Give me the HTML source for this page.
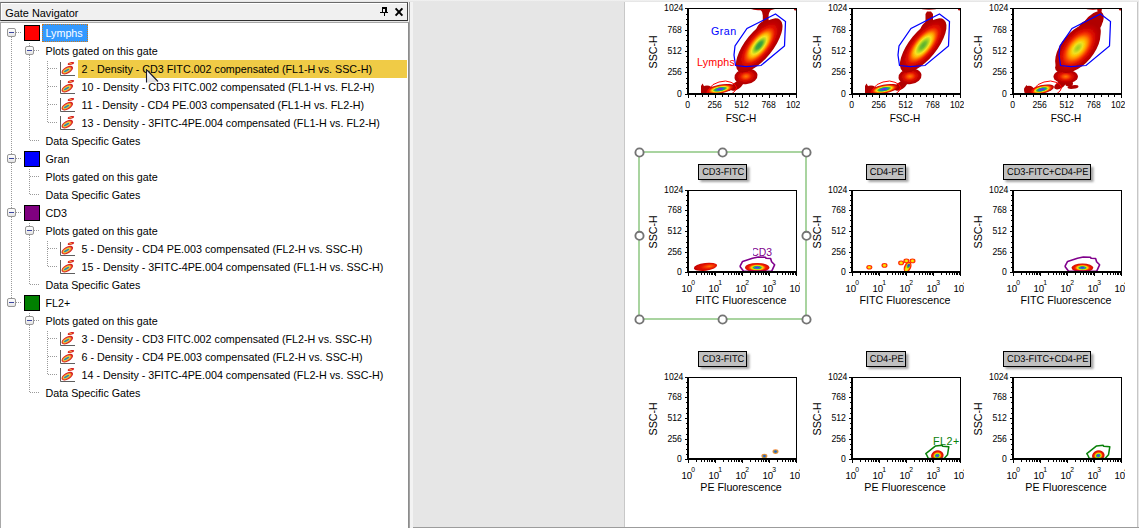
<!DOCTYPE html>
<html><head><meta charset="utf-8"><title>Gate Navigator</title>
<style>

html,body{margin:0;padding:0;}
body{width:1139px;height:528px;overflow:hidden;background:#e6e6e6;position:relative;
 font-family:"Liberation Sans", sans-serif;font-size:10.67px;color:#000;}
.abs{position:absolute;}
#topstrip{left:0;top:0;width:1139px;height:2px;background:linear-gradient(#f4f4f4,#e2e2e2);}
#nav{left:0;top:0;width:410px;height:528px;}
#title{left:0;top:2px;width:406px;height:17px;background:#f0f0f0;border:1px solid #6a6a6a;border-left-color:#8a8a8a;
 border-right-color:#404040;border-bottom-color:#303030;box-shadow:inset 1px 1px 0 #ffffff;}
#title span{position:absolute;left:4.3px;top:3px;font-size:10.88px;line-height:15px;white-space:nowrap;}
#tree{left:0;top:22px;width:409px;height:506px;background:#fff;border-left:1px solid #a8a8a8;border-top:1px solid #a8a8a8;
 border-right:1px solid #8c8c8c;box-sizing:border-box;}
.row{position:absolute;height:18px;line-height:18px;white-space:nowrap;font-size:10.74px;}
.sw{position:absolute;width:14px;height:14px;border:1px solid #000;}
.exp{position:absolute;width:7px;height:7px;border:1px solid #969696;border-radius:2px;background:linear-gradient(#ffffff,#e4e4e4);}
.exp:after{content:"";position:absolute;left:1px;top:3px;width:5px;height:1px;background:#3c46a0;}
.vd{position:absolute;width:1px;background-image:linear-gradient(#9a9a9a 50%,transparent 50%);background-size:1px 2px;}
.hd{position:absolute;height:1px;background-image:linear-gradient(90deg,#9a9a9a 50%,transparent 50%);background-size:2px 1px;}
#page{left:625px;top:2px;width:512px;height:525px;background:#fff;}
#gap{left:408px;top:2px;width:5px;height:526px;background:#f3f3f3;}
#gapl{left:409px;top:2px;width:1px;height:526px;background:#a2a2a2;}

</style></head><body>
<div class="abs" id="topstrip"></div>
<div class="abs" id="gap"></div><div class="abs" id="gapl"></div>
<div class="abs" style="left:624px;top:2px;width:1px;height:525px;background:#c8c8c8"></div>
<div class="abs" id="page"></div>
<div class="abs" style="left:1137px;top:2px;width:1px;height:526px;background:#c6c6c6"></div><div class="abs" style="left:1138px;top:2px;width:1px;height:526px;background:#e8e8e8"></div>
<div class="abs" style="left:413px;top:527px;width:726px;height:1px;background:#9c9c9c"></div>
<div class="abs" id="nav">
<div class="abs" id="title"><span>Gate Navigator</span></div>
<svg class="abs" style="left:378px;top:5px" width="28" height="14" viewBox="378 5 28 14"><g fill="#000" shape-rendering="crispEdges"><rect x="382" y="7" width="5" height="2"/><rect x="382" y="9" width="1" height="3"/><rect x="385" y="9" width="2" height="3"/><rect x="380" y="12" width="8" height="1"/><rect x="384" y="13" width="1" height="3"/></g><path d="M395.6 8.4l6.8 7.2M402.4 8.4l-6.8 7.2" stroke="#000" stroke-width="2" fill="none"/></svg>
<div class="abs" id="tree"></div>
<div class="vd" style="left:11px;top:37px;height:261px"></div>
<div class="vd" style="left:29px;top:43px;height:4px"></div>
<div class="vd" style="left:29px;top:55px;height:85px"></div>
<div class="vd" style="left:29px;top:169px;height:25px"></div>
<div class="vd" style="left:29px;top:223px;height:4px"></div>
<div class="vd" style="left:29px;top:235px;height:49px"></div>
<div class="vd" style="left:29px;top:313px;height:4px"></div>
<div class="vd" style="left:29px;top:325px;height:67px"></div>
<div class="vd" style="left:47px;top:61px;height:61px"></div>
<div class="vd" style="left:47px;top:241px;height:25px"></div>
<div class="vd" style="left:47px;top:331px;height:43px"></div>
<div class="hd" style="left:16px;top:32px;width:6px"></div>
<div class="exp" style="left:7px;top:28px"></div>
<div class="sw" style="left:24px;top:25px;background:#ff0000"></div>
<div class="row" style="left:42px;top:24px;width:46px;background:#3399ff;color:#fff;box-sizing:border-box;border:1px dotted #cc7a1e;line-height:16px;padding-left:2.5px">Lymphs</div>
<div class="hd" style="left:34px;top:50px;width:6px"></div>
<div class="exp" style="left:25px;top:46px"></div>
<div class="row" style="left:45.5px;top:42px">Plots gated on this gate</div>
<div class="hd" style="left:48px;top:68px;width:10px"></div>
<div class="abs" style="left:78px;top:60px;width:329px;height:18px;background:#f0cb46"></div>
<svg class="abs" style="left:60px;top:62px" width="16" height="16" viewBox="0 0 16 16"><path d="M0.5 0v13.5H15" stroke="#5e5e5e" stroke-width="1" fill="none"/><ellipse cx="7.3" cy="8.1" rx="6.4" ry="3.3" transform="rotate(-30 7.3 8.1)" fill="#d82424"/><ellipse cx="7.0" cy="8.3" rx="5.0" ry="2.3" transform="rotate(-30 7.0 8.3)" fill="#f08a30"/><ellipse cx="6.8" cy="8.4" rx="4.1" ry="1.7" transform="rotate(-30 6.8 8.4)" fill="#f0d040"/><ellipse cx="6.6" cy="8.5" rx="3.1" ry="0.95" transform="rotate(-30 6.6 8.5)" fill="#2c88b0"/><ellipse cx="10.9" cy="1.5" rx="3.3" ry="1.4" transform="rotate(-12 10.9 1.5)" fill="#d82424"/><ellipse cx="10.6" cy="1.6" rx="1.5" ry="0.55" transform="rotate(-12 10.6 1.6)" fill="#f0a040"/></svg>
<div class="row" style="left:81.5px;top:60px">2 - Density - CD3 FITC.002 compensated (FL1-H vs. SSC-H)</div>
<div class="hd" style="left:48px;top:86px;width:10px"></div>
<svg class="abs" style="left:60px;top:80px" width="16" height="16" viewBox="0 0 16 16"><path d="M0.5 0v13.5H15" stroke="#5e5e5e" stroke-width="1" fill="none"/><ellipse cx="7.3" cy="8.1" rx="6.4" ry="3.3" transform="rotate(-30 7.3 8.1)" fill="#d82424"/><ellipse cx="7.0" cy="8.3" rx="5.0" ry="2.3" transform="rotate(-30 7.0 8.3)" fill="#f08a30"/><ellipse cx="6.8" cy="8.4" rx="4.1" ry="1.7" transform="rotate(-30 6.8 8.4)" fill="#f0d040"/><ellipse cx="6.6" cy="8.5" rx="3.1" ry="0.95" transform="rotate(-30 6.6 8.5)" fill="#2c88b0"/><ellipse cx="10.9" cy="1.5" rx="3.3" ry="1.4" transform="rotate(-12 10.9 1.5)" fill="#d82424"/><ellipse cx="10.6" cy="1.6" rx="1.5" ry="0.55" transform="rotate(-12 10.6 1.6)" fill="#f0a040"/></svg>
<div class="row" style="left:81.5px;top:78px">10 - Density - CD3 FITC.002 compensated (FL1-H vs. FL2-H)</div>
<div class="hd" style="left:48px;top:104px;width:10px"></div>
<svg class="abs" style="left:60px;top:98px" width="16" height="16" viewBox="0 0 16 16"><path d="M0.5 0v13.5H15" stroke="#5e5e5e" stroke-width="1" fill="none"/><ellipse cx="7.3" cy="8.1" rx="6.4" ry="3.3" transform="rotate(-30 7.3 8.1)" fill="#d82424"/><ellipse cx="7.0" cy="8.3" rx="5.0" ry="2.3" transform="rotate(-30 7.0 8.3)" fill="#f08a30"/><ellipse cx="6.8" cy="8.4" rx="4.1" ry="1.7" transform="rotate(-30 6.8 8.4)" fill="#f0d040"/><ellipse cx="6.6" cy="8.5" rx="3.1" ry="0.95" transform="rotate(-30 6.6 8.5)" fill="#2c88b0"/><ellipse cx="10.9" cy="1.5" rx="3.3" ry="1.4" transform="rotate(-12 10.9 1.5)" fill="#d82424"/><ellipse cx="10.6" cy="1.6" rx="1.5" ry="0.55" transform="rotate(-12 10.6 1.6)" fill="#f0a040"/></svg>
<div class="row" style="left:81.5px;top:96px">11 - Density - CD4 PE.003 compensated (FL1-H vs. FL2-H)</div>
<div class="hd" style="left:48px;top:122px;width:10px"></div>
<svg class="abs" style="left:60px;top:116px" width="16" height="16" viewBox="0 0 16 16"><path d="M0.5 0v13.5H15" stroke="#5e5e5e" stroke-width="1" fill="none"/><ellipse cx="7.3" cy="8.1" rx="6.4" ry="3.3" transform="rotate(-30 7.3 8.1)" fill="#d82424"/><ellipse cx="7.0" cy="8.3" rx="5.0" ry="2.3" transform="rotate(-30 7.0 8.3)" fill="#f08a30"/><ellipse cx="6.8" cy="8.4" rx="4.1" ry="1.7" transform="rotate(-30 6.8 8.4)" fill="#f0d040"/><ellipse cx="6.6" cy="8.5" rx="3.1" ry="0.95" transform="rotate(-30 6.6 8.5)" fill="#2c88b0"/><ellipse cx="10.9" cy="1.5" rx="3.3" ry="1.4" transform="rotate(-12 10.9 1.5)" fill="#d82424"/><ellipse cx="10.6" cy="1.6" rx="1.5" ry="0.55" transform="rotate(-12 10.6 1.6)" fill="#f0a040"/></svg>
<div class="row" style="left:81.5px;top:114px">13 - Density - 3FITC-4PE.004 compensated (FL1-H vs. FL2-H)</div>
<div class="hd" style="left:30px;top:140px;width:10px"></div>
<div class="row" style="left:45.5px;top:132px">Data Specific Gates</div>
<div class="hd" style="left:16px;top:158px;width:6px"></div>
<div class="exp" style="left:7px;top:154px"></div>
<div class="sw" style="left:24px;top:151px;background:#0000ff"></div>
<div class="row" style="left:45.5px;top:150px">Gran</div>
<div class="hd" style="left:30px;top:176px;width:10px"></div>
<div class="row" style="left:45.5px;top:168px">Plots gated on this gate</div>
<div class="hd" style="left:30px;top:194px;width:10px"></div>
<div class="row" style="left:45.5px;top:186px">Data Specific Gates</div>
<div class="hd" style="left:16px;top:212px;width:6px"></div>
<div class="exp" style="left:7px;top:208px"></div>
<div class="sw" style="left:24px;top:205px;background:#800080"></div>
<div class="row" style="left:45.5px;top:204px">CD3</div>
<div class="hd" style="left:34px;top:230px;width:6px"></div>
<div class="exp" style="left:25px;top:226px"></div>
<div class="row" style="left:45.5px;top:222px">Plots gated on this gate</div>
<div class="hd" style="left:48px;top:248px;width:10px"></div>
<svg class="abs" style="left:60px;top:242px" width="16" height="16" viewBox="0 0 16 16"><path d="M0.5 0v13.5H15" stroke="#5e5e5e" stroke-width="1" fill="none"/><ellipse cx="7.3" cy="8.1" rx="6.4" ry="3.3" transform="rotate(-30 7.3 8.1)" fill="#d82424"/><ellipse cx="7.0" cy="8.3" rx="5.0" ry="2.3" transform="rotate(-30 7.0 8.3)" fill="#f08a30"/><ellipse cx="6.8" cy="8.4" rx="4.1" ry="1.7" transform="rotate(-30 6.8 8.4)" fill="#f0d040"/><ellipse cx="6.6" cy="8.5" rx="3.1" ry="0.95" transform="rotate(-30 6.6 8.5)" fill="#2c88b0"/><ellipse cx="10.9" cy="1.5" rx="3.3" ry="1.4" transform="rotate(-12 10.9 1.5)" fill="#d82424"/><ellipse cx="10.6" cy="1.6" rx="1.5" ry="0.55" transform="rotate(-12 10.6 1.6)" fill="#f0a040"/></svg>
<div class="row" style="left:81.5px;top:240px">5 - Density - CD4 PE.003 compensated (FL2-H vs. SSC-H)</div>
<div class="hd" style="left:48px;top:266px;width:10px"></div>
<svg class="abs" style="left:60px;top:260px" width="16" height="16" viewBox="0 0 16 16"><path d="M0.5 0v13.5H15" stroke="#5e5e5e" stroke-width="1" fill="none"/><ellipse cx="7.3" cy="8.1" rx="6.4" ry="3.3" transform="rotate(-30 7.3 8.1)" fill="#d82424"/><ellipse cx="7.0" cy="8.3" rx="5.0" ry="2.3" transform="rotate(-30 7.0 8.3)" fill="#f08a30"/><ellipse cx="6.8" cy="8.4" rx="4.1" ry="1.7" transform="rotate(-30 6.8 8.4)" fill="#f0d040"/><ellipse cx="6.6" cy="8.5" rx="3.1" ry="0.95" transform="rotate(-30 6.6 8.5)" fill="#2c88b0"/><ellipse cx="10.9" cy="1.5" rx="3.3" ry="1.4" transform="rotate(-12 10.9 1.5)" fill="#d82424"/><ellipse cx="10.6" cy="1.6" rx="1.5" ry="0.55" transform="rotate(-12 10.6 1.6)" fill="#f0a040"/></svg>
<div class="row" style="left:81.5px;top:258px">15 - Density - 3FITC-4PE.004 compensated (FL1-H vs. SSC-H)</div>
<div class="hd" style="left:30px;top:284px;width:10px"></div>
<div class="row" style="left:45.5px;top:276px">Data Specific Gates</div>
<div class="hd" style="left:16px;top:302px;width:6px"></div>
<div class="exp" style="left:7px;top:298px"></div>
<div class="sw" style="left:24px;top:295px;background:#008000"></div>
<div class="row" style="left:45.5px;top:294px">FL2+</div>
<div class="hd" style="left:34px;top:320px;width:6px"></div>
<div class="exp" style="left:25px;top:316px"></div>
<div class="row" style="left:45.5px;top:312px">Plots gated on this gate</div>
<div class="hd" style="left:48px;top:338px;width:10px"></div>
<svg class="abs" style="left:60px;top:332px" width="16" height="16" viewBox="0 0 16 16"><path d="M0.5 0v13.5H15" stroke="#5e5e5e" stroke-width="1" fill="none"/><ellipse cx="7.3" cy="8.1" rx="6.4" ry="3.3" transform="rotate(-30 7.3 8.1)" fill="#d82424"/><ellipse cx="7.0" cy="8.3" rx="5.0" ry="2.3" transform="rotate(-30 7.0 8.3)" fill="#f08a30"/><ellipse cx="6.8" cy="8.4" rx="4.1" ry="1.7" transform="rotate(-30 6.8 8.4)" fill="#f0d040"/><ellipse cx="6.6" cy="8.5" rx="3.1" ry="0.95" transform="rotate(-30 6.6 8.5)" fill="#2c88b0"/><ellipse cx="10.9" cy="1.5" rx="3.3" ry="1.4" transform="rotate(-12 10.9 1.5)" fill="#d82424"/><ellipse cx="10.6" cy="1.6" rx="1.5" ry="0.55" transform="rotate(-12 10.6 1.6)" fill="#f0a040"/></svg>
<div class="row" style="left:81.5px;top:330px">3 - Density - CD3 FITC.002 compensated (FL2-H vs. SSC-H)</div>
<div class="hd" style="left:48px;top:356px;width:10px"></div>
<svg class="abs" style="left:60px;top:350px" width="16" height="16" viewBox="0 0 16 16"><path d="M0.5 0v13.5H15" stroke="#5e5e5e" stroke-width="1" fill="none"/><ellipse cx="7.3" cy="8.1" rx="6.4" ry="3.3" transform="rotate(-30 7.3 8.1)" fill="#d82424"/><ellipse cx="7.0" cy="8.3" rx="5.0" ry="2.3" transform="rotate(-30 7.0 8.3)" fill="#f08a30"/><ellipse cx="6.8" cy="8.4" rx="4.1" ry="1.7" transform="rotate(-30 6.8 8.4)" fill="#f0d040"/><ellipse cx="6.6" cy="8.5" rx="3.1" ry="0.95" transform="rotate(-30 6.6 8.5)" fill="#2c88b0"/><ellipse cx="10.9" cy="1.5" rx="3.3" ry="1.4" transform="rotate(-12 10.9 1.5)" fill="#d82424"/><ellipse cx="10.6" cy="1.6" rx="1.5" ry="0.55" transform="rotate(-12 10.6 1.6)" fill="#f0a040"/></svg>
<div class="row" style="left:81.5px;top:348px">6 - Density - CD4 PE.003 compensated (FL2-H vs. SSC-H)</div>
<div class="hd" style="left:48px;top:374px;width:10px"></div>
<svg class="abs" style="left:60px;top:368px" width="16" height="16" viewBox="0 0 16 16"><path d="M0.5 0v13.5H15" stroke="#5e5e5e" stroke-width="1" fill="none"/><ellipse cx="7.3" cy="8.1" rx="6.4" ry="3.3" transform="rotate(-30 7.3 8.1)" fill="#d82424"/><ellipse cx="7.0" cy="8.3" rx="5.0" ry="2.3" transform="rotate(-30 7.0 8.3)" fill="#f08a30"/><ellipse cx="6.8" cy="8.4" rx="4.1" ry="1.7" transform="rotate(-30 6.8 8.4)" fill="#f0d040"/><ellipse cx="6.6" cy="8.5" rx="3.1" ry="0.95" transform="rotate(-30 6.6 8.5)" fill="#2c88b0"/><ellipse cx="10.9" cy="1.5" rx="3.3" ry="1.4" transform="rotate(-12 10.9 1.5)" fill="#d82424"/><ellipse cx="10.6" cy="1.6" rx="1.5" ry="0.55" transform="rotate(-12 10.6 1.6)" fill="#f0a040"/></svg>
<div class="row" style="left:81.5px;top:366px">14 - Density - 3FITC-4PE.004 compensated (FL2-H vs. SSC-H)</div>
<div class="hd" style="left:30px;top:392px;width:10px"></div>
<div class="row" style="left:45.5px;top:384px">Data Specific Gates</div>
<svg class="abs" style="left:144px;top:66px" width="18" height="20" viewBox="144 66 18 20"><defs><linearGradient id="cg" x1="0" y1="0" x2="0" y2="1"><stop offset="0" stop-color="#fff"/><stop offset="1" stop-color="#dcdcdc"/></linearGradient></defs><path d="M146.5 69.5V82.5H152L157.8 81.5Z" fill="url(#cg)"/><path d="M146.5 69V82.5M146.5 69.5L158 81.5" stroke="#1a1a2a" stroke-width="1.1" fill="none"/></svg>
</div>
<svg class="abs" style="left:0;top:0" width="1139" height="528" viewBox="0 0 1139 528" font-family='"Liberation Sans", sans-serif'>
<defs>
<filter id="b1" x="-20%" y="-20%" width="140%" height="140%"><feGaussianBlur stdDeviation="0.6"/></filter>
<filter id="b2" x="-20%" y="-20%" width="140%" height="140%"><feGaussianBlur stdDeviation="0.35"/></filter>
<filter id="sh" x="-20%" y="-30%" width="150%" height="190%"><feGaussianBlur stdDeviation="0.9"/></filter>
<radialGradient id="gMain">
 <stop offset="0" stop-color="#2c9848"/><stop offset="0.13" stop-color="#44a83c"/><stop offset="0.24" stop-color="#a8d420"/>
 <stop offset="0.33" stop-color="#f8e420"/><stop offset="0.44" stop-color="#ffa800"/><stop offset="0.55" stop-color="#f85000"/>
 <stop offset="0.67" stop-color="#e41000"/><stop offset="0.83" stop-color="#c00000"/><stop offset="1" stop-color="#ae0000"/>
</radialGradient>
<radialGradient id="gMain2">
 <stop offset="0" stop-color="#58b030"/><stop offset="0.12" stop-color="#70bc2c"/><stop offset="0.24" stop-color="#b8d820"/>
 <stop offset="0.33" stop-color="#f8e420"/><stop offset="0.44" stop-color="#ffa800"/><stop offset="0.55" stop-color="#f85000"/>
 <stop offset="0.67" stop-color="#e41000"/><stop offset="0.83" stop-color="#c00000"/><stop offset="1" stop-color="#ae0000"/>
</radialGradient>
<radialGradient id="gMain3">
 <stop offset="0" stop-color="#a0cc24"/><stop offset="0.10" stop-color="#b8d420"/><stop offset="0.22" stop-color="#f0e020"/>
 <stop offset="0.32" stop-color="#ffc000"/><stop offset="0.43" stop-color="#ff8800"/><stop offset="0.55" stop-color="#f84000"/>
 <stop offset="0.68" stop-color="#e01000"/><stop offset="0.84" stop-color="#c00000"/><stop offset="1" stop-color="#ae0000"/>
</radialGradient>
<radialGradient id="gMid">
 <stop offset="0" stop-color="#ff7c00"/><stop offset="0.22" stop-color="#fa5000"/><stop offset="0.5" stop-color="#e01000"/>
 <stop offset="0.8" stop-color="#bc0000"/><stop offset="1" stop-color="#ae0000"/>
</radialGradient>
<radialGradient id="gRain">
 <stop offset="0" stop-color="#9020d0"/><stop offset="0.12" stop-color="#6030e0"/><stop offset="0.22" stop-color="#2070d8"/>
 <stop offset="0.32" stop-color="#20a070"/><stop offset="0.42" stop-color="#60c030"/><stop offset="0.52" stop-color="#f0e420"/>
 <stop offset="0.62" stop-color="#ffa000"/><stop offset="0.74" stop-color="#f03800"/><stop offset="0.88" stop-color="#d00800"/>
 <stop offset="1" stop-color="#b00000"/>
</radialGradient>
<radialGradient id="gRain2">
 <stop offset="0" stop-color="#9020d0"/><stop offset="0.10" stop-color="#5030e0"/><stop offset="0.20" stop-color="#2080d0"/>
 <stop offset="0.30" stop-color="#30b050"/><stop offset="0.40" stop-color="#c0d820"/><stop offset="0.48" stop-color="#ffd000"/>
 <stop offset="0.58" stop-color="#ff7000"/><stop offset="0.70" stop-color="#f02000"/><stop offset="1" stop-color="#d00808"/>
</radialGradient>
<radialGradient id="gRedL" cx="0.6" cy="0.5" r="0.62" fx="0.68" fy="0.5">
 <stop offset="0" stop-color="#ff7800"/><stop offset="0.25" stop-color="#f84000"/><stop offset="0.55" stop-color="#e01000"/>
 <stop offset="1" stop-color="#c00000"/>
</radialGradient>
<radialGradient id="gRed">
 <stop offset="0" stop-color="#ff8c00"/><stop offset="0.3" stop-color="#f84800"/><stop offset="0.6" stop-color="#e01000"/>
 <stop offset="1" stop-color="#c00000"/>
</radialGradient>
</defs>
<defs><clipPath id="cw1"><rect x="625" y="0" width="175" height="528"/></clipPath><clipPath id="cw2"><rect x="800" y="0" width="164" height="528"/></clipPath><clipPath id="cw3"><rect x="964" y="0" width="161" height="528"/></clipPath></defs>
<g clip-path="url(#cw1)">
<defs><clipPath id="c1_0"><rect x="689" y="9" width="107" height="84"/></clipPath></defs><g clip-path="url(#c1_0)"><g filter="url(#b2)"><g fill="#b00000"><ellipse cx="763" cy="8.3" rx="13" ry="2.0" transform="rotate(0 763 8.3)"/><path d="M760 9 Q763 12 762.8 16 V26 H768.6 V16 Q768.6 12 772 9Z"/><ellipse cx="795.5" cy="9" rx="1.6" ry="1.6" transform="rotate(0 795.5 9)"/><ellipse cx="767" cy="32" rx="11" ry="12" transform="rotate(25 767 32)"/><ellipse cx="744.5" cy="67" rx="7" ry="7" transform="rotate(0 744.5 67)"/><ellipse cx="737" cy="85.5" rx="7.5" ry="3.6" transform="rotate(-35 737 85.5)"/><ellipse cx="707" cy="90" rx="5.5" ry="4.5" transform="rotate(0 707 90)"/><path d="M701 94 V86 L702.5 83.5 L704.5 87 V94Z"/></g><ellipse cx="746" cy="76.4" rx="11.6" ry="7.8" fill="url(#gMid)" transform="rotate(-8 746 76.4)"/><ellipse cx="759.2" cy="45.4" rx="33" ry="13.6" fill="url(#gMain)" transform="rotate(-51 759.2 45.4)"/><ellipse cx="720" cy="89.2" rx="14.5" ry="4.5" fill="url(#gRain)" transform="rotate(-11 720 89.2)"/></g></g><polygon points="775.5,14 785.5,21.5 784.5,46 761,65.5 746,66.5 735.5,65.5 734,55 735,46 747,28.5" fill="none" stroke="#0000ff" stroke-width="1.25"/><g clip-path="url(#c1_0)"><polyline points="706.5,94 709,89 713,84.6 719,82 725.6,81 731,82.3 735,84.5 736.6,87.7 735,91 731.5,94" fill="none" stroke="#ff0000" stroke-width="1"/></g><text x="711" y="34.6" font-size="10.7" fill="#0000ff" letter-spacing="0.45">Gran</text><text x="697" y="65.8" font-size="10.7" fill="#ff0000" letter-spacing="0.15">Lymphs</text><g shape-rendering="crispEdges" fill="#000"><rect x="687" y="8" width="2" height="87"/><rect x="687" y="93" width="110" height="2"/><rect x="688" y="8" width="109" height="1"/><rect x="796" y="8" width="1" height="87"/><rect x="685" y="94" width="2" height="1"/><rect x="686" y="88" width="1" height="1"/><rect x="686" y="83" width="1" height="1"/><rect x="686" y="78" width="1" height="1"/><rect x="685" y="72" width="2" height="1"/><rect x="686" y="67" width="1" height="1"/><rect x="686" y="62" width="1" height="1"/><rect x="686" y="56" width="1" height="1"/><rect x="685" y="51" width="2" height="1"/><rect x="686" y="46" width="1" height="1"/><rect x="686" y="40" width="1" height="1"/><rect x="686" y="35" width="1" height="1"/><rect x="685" y="30" width="2" height="1"/><rect x="686" y="24" width="1" height="1"/><rect x="686" y="19" width="1" height="1"/><rect x="686" y="14" width="1" height="1"/><rect x="685" y="8" width="2" height="1"/><rect x="688" y="95" width="1" height="3"/><rect x="695" y="95" width="1" height="2"/><rect x="702" y="95" width="1" height="2"/><rect x="708" y="95" width="1" height="2"/><rect x="715" y="95" width="1" height="3"/><rect x="722" y="95" width="1" height="2"/><rect x="728" y="95" width="1" height="2"/><rect x="735" y="95" width="1" height="2"/><rect x="742" y="95" width="1" height="3"/><rect x="749" y="95" width="1" height="2"/><rect x="756" y="95" width="1" height="2"/><rect x="762" y="95" width="1" height="2"/><rect x="769" y="95" width="1" height="3"/><rect x="776" y="95" width="1" height="2"/><rect x="782" y="95" width="1" height="2"/><rect x="789" y="95" width="1" height="2"/><rect x="796" y="95" width="1" height="3"/></g><text transform="translate(683.30 11.00) scale(0.855 1)" font-size="10.1" text-anchor="end" text-rendering="geometricPrecision">1024</text><text transform="translate(681.80 33.00) scale(0.855 1)" font-size="10.1" text-anchor="end" text-rendering="geometricPrecision">768</text><text transform="translate(681.80 54.00) scale(0.855 1)" font-size="10.1" text-anchor="end" text-rendering="geometricPrecision">512</text><text transform="translate(681.80 75.00) scale(0.855 1)" font-size="10.1" text-anchor="end" text-rendering="geometricPrecision">256</text><text transform="translate(681.80 97.00) scale(0.855 1)" font-size="10.1" text-anchor="end" text-rendering="geometricPrecision">0</text><text transform="translate(656.5 51.8) rotate(-90)" font-size="10.7" text-anchor="middle">SSC-H</text><text transform="translate(687.70 108.00) scale(0.855 1)" font-size="10.1" text-anchor="middle" text-rendering="geometricPrecision">0</text><text transform="translate(714.70 108.00) scale(0.855 1)" font-size="10.1" text-anchor="middle" text-rendering="geometricPrecision">256</text><text transform="translate(741.70 108.00) scale(0.855 1)" font-size="10.1" text-anchor="middle" text-rendering="geometricPrecision">512</text><text transform="translate(768.70 108.00) scale(0.855 1)" font-size="10.1" text-anchor="middle" text-rendering="geometricPrecision">768</text><text transform="translate(786.00 108.00) scale(0.855 1)" font-size="10.1" text-anchor="start" text-rendering="geometricPrecision">1024</text><text transform="translate(741.0 122.2) scale(0.94 1)" font-size="10.7" text-anchor="middle">FSC-H</text>
</g>
<g clip-path="url(#cw2)">
<defs><clipPath id="c1_1"><rect x="853" y="9" width="107" height="84"/></clipPath></defs><g clip-path="url(#c1_1)"><g filter="url(#b2)"><g fill="#b00000"><ellipse cx="929" cy="8.2" rx="9" ry="1.6" transform="rotate(0 929 8.2)"/><path d="M925.5 14 L927 11.5 H931 L933 14 V26 H925.5Z"/><ellipse cx="959.5" cy="9" rx="1.6" ry="1.6" transform="rotate(0 959.5 9)"/><ellipse cx="931" cy="32" rx="11" ry="12" transform="rotate(25 931 32)"/><ellipse cx="908.5" cy="67" rx="7" ry="7" transform="rotate(0 908.5 67)"/><ellipse cx="901" cy="85.5" rx="7.5" ry="3.6" transform="rotate(-35 901 85.5)"/><ellipse cx="871" cy="90" rx="5.5" ry="4.5" transform="rotate(0 871 90)"/><path d="M865 94 V86 L866.5 83.5 L868.5 87 V94Z"/></g><ellipse cx="910" cy="76.4" rx="11.6" ry="7.8" fill="url(#gMid)" transform="rotate(-8 910 76.4)"/><ellipse cx="923.2" cy="45.4" rx="33" ry="13.6" fill="url(#gMain2)" transform="rotate(-51 923.2 45.4)"/><ellipse cx="884" cy="89.2" rx="14.5" ry="4.5" fill="url(#gRain)" transform="rotate(-11 884 89.2)"/></g></g><polygon points="939.5,14 949.5,21.5 948.5,46 925,65.5 910,66.5 899.5,65.5 898,55 899,46 911,28.5" fill="none" stroke="#0000ff" stroke-width="1.25"/><g clip-path="url(#c1_1)"><polyline points="870.5,94 873,89 877,84.6 883,82 889.6,81 895,82.3 899,84.5 900.6,87.7 899,91 895.5,94" fill="none" stroke="#ff0000" stroke-width="1"/></g><g shape-rendering="crispEdges" fill="#000"><rect x="851" y="8" width="2" height="87"/><rect x="851" y="93" width="110" height="2"/><rect x="852" y="8" width="109" height="1"/><rect x="960" y="8" width="1" height="87"/><rect x="849" y="94" width="2" height="1"/><rect x="850" y="88" width="1" height="1"/><rect x="850" y="83" width="1" height="1"/><rect x="850" y="78" width="1" height="1"/><rect x="849" y="72" width="2" height="1"/><rect x="850" y="67" width="1" height="1"/><rect x="850" y="62" width="1" height="1"/><rect x="850" y="56" width="1" height="1"/><rect x="849" y="51" width="2" height="1"/><rect x="850" y="46" width="1" height="1"/><rect x="850" y="40" width="1" height="1"/><rect x="850" y="35" width="1" height="1"/><rect x="849" y="30" width="2" height="1"/><rect x="850" y="24" width="1" height="1"/><rect x="850" y="19" width="1" height="1"/><rect x="850" y="14" width="1" height="1"/><rect x="849" y="8" width="2" height="1"/><rect x="852" y="95" width="1" height="3"/><rect x="859" y="95" width="1" height="2"/><rect x="866" y="95" width="1" height="2"/><rect x="872" y="95" width="1" height="2"/><rect x="879" y="95" width="1" height="3"/><rect x="886" y="95" width="1" height="2"/><rect x="892" y="95" width="1" height="2"/><rect x="899" y="95" width="1" height="2"/><rect x="906" y="95" width="1" height="3"/><rect x="913" y="95" width="1" height="2"/><rect x="920" y="95" width="1" height="2"/><rect x="926" y="95" width="1" height="2"/><rect x="933" y="95" width="1" height="3"/><rect x="940" y="95" width="1" height="2"/><rect x="946" y="95" width="1" height="2"/><rect x="953" y="95" width="1" height="2"/><rect x="960" y="95" width="1" height="3"/></g><text transform="translate(847.30 11.00) scale(0.855 1)" font-size="10.1" text-anchor="end" text-rendering="geometricPrecision">1024</text><text transform="translate(845.80 33.00) scale(0.855 1)" font-size="10.1" text-anchor="end" text-rendering="geometricPrecision">768</text><text transform="translate(845.80 54.00) scale(0.855 1)" font-size="10.1" text-anchor="end" text-rendering="geometricPrecision">512</text><text transform="translate(845.80 75.00) scale(0.855 1)" font-size="10.1" text-anchor="end" text-rendering="geometricPrecision">256</text><text transform="translate(845.80 97.00) scale(0.855 1)" font-size="10.1" text-anchor="end" text-rendering="geometricPrecision">0</text><text transform="translate(820.5 51.8) rotate(-90)" font-size="10.7" text-anchor="middle">SSC-H</text><text transform="translate(851.70 108.00) scale(0.855 1)" font-size="10.1" text-anchor="middle" text-rendering="geometricPrecision">0</text><text transform="translate(878.70 108.00) scale(0.855 1)" font-size="10.1" text-anchor="middle" text-rendering="geometricPrecision">256</text><text transform="translate(905.70 108.00) scale(0.855 1)" font-size="10.1" text-anchor="middle" text-rendering="geometricPrecision">512</text><text transform="translate(932.70 108.00) scale(0.855 1)" font-size="10.1" text-anchor="middle" text-rendering="geometricPrecision">768</text><text transform="translate(950.00 108.00) scale(0.855 1)" font-size="10.1" text-anchor="start" text-rendering="geometricPrecision">1024</text><text transform="translate(905.0 122.2) scale(0.94 1)" font-size="10.7" text-anchor="middle">FSC-H</text>
</g>
<g clip-path="url(#cw3)">
<defs><clipPath id="c1_2"><rect x="1014" y="9" width="107" height="84"/></clipPath></defs><g clip-path="url(#c1_2)"><g filter="url(#b2)"><g fill="#b00000"><ellipse cx="1093" cy="8.2" rx="8" ry="1.5" transform="rotate(0 1093 8.2)"/><ellipse cx="1120.5" cy="9" rx="1.6" ry="1.6" transform="rotate(0 1120.5 9)"/><path d="M1093 24 L1097.8 13 L1097 8 H1102 L1101.4 13 L1103 22Z"/><ellipse cx="1090.5" cy="27.5" rx="19" ry="8.6" transform="rotate(-54 1090.5 27.5)"/><ellipse cx="1089" cy="32" rx="11.5" ry="12.5" transform="rotate(30 1089 32)"/><ellipse cx="1069" cy="83.5" rx="4" ry="3" transform="rotate(0 1069 83.5)"/><ellipse cx="1064.5" cy="67.5" rx="9.5" ry="6.5" transform="rotate(0 1064.5 67.5)"/><ellipse cx="1073" cy="87" rx="5.5" ry="1.8" transform="rotate(-5 1073 87)"/><ellipse cx="1060" cy="85" rx="6.5" ry="3.4" transform="rotate(-30 1060 85)"/><ellipse cx="1029" cy="90" rx="5" ry="4.2" transform="rotate(0 1029 90)"/><path d="M1024.5 94 V88 L1026.5 85 L1029 88 V94Z"/></g><ellipse cx="1065.7" cy="76.6" rx="12.2" ry="7.0" fill="url(#gMid)" transform="rotate(0 1065.7 76.6)"/><ellipse cx="1077.8" cy="48.0" rx="29.5" ry="16.2" fill="url(#gMain3)" transform="rotate(-50 1077.8 48.0)"/><ellipse cx="1041.7" cy="89.5" rx="12.5" ry="4.3" fill="url(#gRain)" transform="rotate(-13 1041.7 89.5)"/></g></g><polygon points="1100.5,14 1110.5,21.5 1109.5,46 1086,65.5 1071,66.5 1060.5,65.5 1059,55 1060,46 1072,28.5" fill="none" stroke="#0000ff" stroke-width="1.25"/><g clip-path="url(#c1_2)"><polyline points="1031.5,94 1034,89 1038,84.6 1044,82 1050.6,81 1056,82.3 1060,84.5 1061.6,87.7 1060,91 1056.5,94" fill="none" stroke="#ff0000" stroke-width="1"/></g><g shape-rendering="crispEdges" fill="#000"><rect x="1012" y="8" width="2" height="87"/><rect x="1012" y="93" width="110" height="2"/><rect x="1013" y="8" width="109" height="1"/><rect x="1121" y="8" width="1" height="87"/><rect x="1010" y="94" width="2" height="1"/><rect x="1011" y="88" width="1" height="1"/><rect x="1011" y="83" width="1" height="1"/><rect x="1011" y="78" width="1" height="1"/><rect x="1010" y="72" width="2" height="1"/><rect x="1011" y="67" width="1" height="1"/><rect x="1011" y="62" width="1" height="1"/><rect x="1011" y="56" width="1" height="1"/><rect x="1010" y="51" width="2" height="1"/><rect x="1011" y="46" width="1" height="1"/><rect x="1011" y="40" width="1" height="1"/><rect x="1011" y="35" width="1" height="1"/><rect x="1010" y="30" width="2" height="1"/><rect x="1011" y="24" width="1" height="1"/><rect x="1011" y="19" width="1" height="1"/><rect x="1011" y="14" width="1" height="1"/><rect x="1010" y="8" width="2" height="1"/><rect x="1013" y="95" width="1" height="3"/><rect x="1020" y="95" width="1" height="2"/><rect x="1026" y="95" width="1" height="2"/><rect x="1033" y="95" width="1" height="2"/><rect x="1040" y="95" width="1" height="3"/><rect x="1047" y="95" width="1" height="2"/><rect x="1054" y="95" width="1" height="2"/><rect x="1060" y="95" width="1" height="2"/><rect x="1067" y="95" width="1" height="3"/><rect x="1074" y="95" width="1" height="2"/><rect x="1080" y="95" width="1" height="2"/><rect x="1087" y="95" width="1" height="2"/><rect x="1094" y="95" width="1" height="3"/><rect x="1101" y="95" width="1" height="2"/><rect x="1108" y="95" width="1" height="2"/><rect x="1114" y="95" width="1" height="2"/><rect x="1121" y="95" width="1" height="3"/></g><text transform="translate(1008.30 11.00) scale(0.855 1)" font-size="10.1" text-anchor="end" text-rendering="geometricPrecision">1024</text><text transform="translate(1006.80 33.00) scale(0.855 1)" font-size="10.1" text-anchor="end" text-rendering="geometricPrecision">768</text><text transform="translate(1006.80 54.00) scale(0.855 1)" font-size="10.1" text-anchor="end" text-rendering="geometricPrecision">512</text><text transform="translate(1006.80 75.00) scale(0.855 1)" font-size="10.1" text-anchor="end" text-rendering="geometricPrecision">256</text><text transform="translate(1006.80 97.00) scale(0.855 1)" font-size="10.1" text-anchor="end" text-rendering="geometricPrecision">0</text><text transform="translate(981.5 51.8) rotate(-90)" font-size="10.7" text-anchor="middle">SSC-H</text><text transform="translate(1012.70 108.00) scale(0.855 1)" font-size="10.1" text-anchor="middle" text-rendering="geometricPrecision">0</text><text transform="translate(1039.70 108.00) scale(0.855 1)" font-size="10.1" text-anchor="middle" text-rendering="geometricPrecision">256</text><text transform="translate(1066.70 108.00) scale(0.855 1)" font-size="10.1" text-anchor="middle" text-rendering="geometricPrecision">512</text><text transform="translate(1093.70 108.00) scale(0.855 1)" font-size="10.1" text-anchor="middle" text-rendering="geometricPrecision">768</text><text transform="translate(1111.00 108.00) scale(0.855 1)" font-size="10.1" text-anchor="start" text-rendering="geometricPrecision">1024</text><text transform="translate(1066.0 122.2) scale(0.94 1)" font-size="10.7" text-anchor="middle">FSC-H</text>
</g>
<g clip-path="url(#cw1)">
<rect x="700.5" y="167" width="49" height="15" fill="#a4a4a4" filter="url(#sh)"/><rect x="698.5" y="164.5" width="48" height="15" fill="#c0c0c0" stroke="#000" stroke-width="1" shape-rendering="crispEdges"/><text transform="translate(723.2 175) scale(0.925 1)" font-size="10" text-anchor="middle" text-rendering="geometricPrecision">CD3-FITC</text>
<defs><clipPath id="c_20"><rect x="689" y="191" width="107" height="80"/></clipPath></defs><g clip-path="url(#c_20)"><g filter="url(#b2)"><ellipse cx="705.5" cy="266.8" rx="11.7" ry="3.9" fill="url(#gRedL)" transform="rotate(-7 705.5 266.8)"/><ellipse cx="757.2" cy="267.6" rx="12.2" ry="4.7" fill="url(#gRain2)" transform="rotate(0 757.2 267.6)"/></g></g><polygon points="740.2,265.8 742.6,261.4 752.5,258.3 758.3,257.0 765.4,257.3 766.1,258.3 770.6,258.5 771.6,261.7 774.6,264.8 771.6,271.3 743.6,271.3 740.2,266.8" fill="none" stroke="#80008c" stroke-width="1.6" stroke-linejoin="round"/><defs><clipPath id="ccd3"><rect x="752.9" y="240" width="40" height="20"/></clipPath></defs><text x="751.3" y="256.0" font-size="10.4" fill="#80008c" clip-path="url(#ccd3)">CD3</text><g shape-rendering="crispEdges" fill="#000"><rect x="687" y="190" width="2" height="83"/><rect x="687" y="271" width="110" height="2"/><rect x="688" y="190" width="109" height="1"/><rect x="796" y="190" width="1" height="83"/><rect x="685" y="272" width="2" height="1"/><rect x="686" y="267" width="1" height="1"/><rect x="686" y="262" width="1" height="1"/><rect x="686" y="257" width="1" height="1"/><rect x="685" y="252" width="2" height="1"/><rect x="686" y="247" width="1" height="1"/><rect x="686" y="242" width="1" height="1"/><rect x="686" y="236" width="1" height="1"/><rect x="685" y="231" width="2" height="1"/><rect x="686" y="226" width="1" height="1"/><rect x="686" y="220" width="1" height="1"/><rect x="686" y="215" width="1" height="1"/><rect x="685" y="210" width="2" height="1"/><rect x="686" y="205" width="1" height="1"/><rect x="686" y="200" width="1" height="1"/><rect x="686" y="195" width="1" height="1"/><rect x="685" y="190" width="2" height="1"/><rect x="688" y="273" width="1" height="3"/><rect x="696" y="273" width="1" height="2"/><rect x="701" y="273" width="1" height="2"/><rect x="704" y="273" width="1" height="2"/><rect x="707" y="273" width="1" height="2"/><rect x="709" y="273" width="1" height="2"/><rect x="711" y="273" width="1" height="2"/><rect x="712" y="273" width="1" height="2"/><rect x="714" y="273" width="1" height="2"/><rect x="715" y="273" width="1" height="3"/><rect x="723" y="273" width="1" height="2"/><rect x="728" y="273" width="1" height="2"/><rect x="731" y="273" width="1" height="2"/><rect x="734" y="273" width="1" height="2"/><rect x="736" y="273" width="1" height="2"/><rect x="738" y="273" width="1" height="2"/><rect x="739" y="273" width="1" height="2"/><rect x="741" y="273" width="1" height="2"/><rect x="742" y="273" width="1" height="3"/><rect x="750" y="273" width="1" height="2"/><rect x="755" y="273" width="1" height="2"/><rect x="758" y="273" width="1" height="2"/><rect x="761" y="273" width="1" height="2"/><rect x="763" y="273" width="1" height="2"/><rect x="765" y="273" width="1" height="2"/><rect x="766" y="273" width="1" height="2"/><rect x="768" y="273" width="1" height="2"/><rect x="769" y="273" width="1" height="3"/><rect x="777" y="273" width="1" height="2"/><rect x="782" y="273" width="1" height="2"/><rect x="785" y="273" width="1" height="2"/><rect x="788" y="273" width="1" height="2"/><rect x="790" y="273" width="1" height="2"/><rect x="792" y="273" width="1" height="2"/><rect x="793" y="273" width="1" height="2"/><rect x="795" y="273" width="1" height="2"/><rect x="796" y="273" width="1" height="3"/></g><text transform="translate(683.30 193.00) scale(0.855 1)" font-size="10.1" text-anchor="end" text-rendering="geometricPrecision">1024</text><text transform="translate(681.80 213.00) scale(0.855 1)" font-size="10.1" text-anchor="end" text-rendering="geometricPrecision">768</text><text transform="translate(681.80 234.00) scale(0.855 1)" font-size="10.1" text-anchor="end" text-rendering="geometricPrecision">512</text><text transform="translate(681.80 255.00) scale(0.855 1)" font-size="10.1" text-anchor="end" text-rendering="geometricPrecision">256</text><text transform="translate(681.80 275.00) scale(0.855 1)" font-size="10.1" text-anchor="end" text-rendering="geometricPrecision">0</text><text transform="translate(656.5 231.8) rotate(-90)" font-size="10.7" text-anchor="middle">SSC-H</text><text transform="translate(681.40 292.00) scale(0.955 1)" font-size="10.1" text-anchor="start" text-rendering="geometricPrecision">10</text><text x="691.2" y="285.0" font-size="6.8">0</text><text transform="translate(708.40 292.00) scale(0.955 1)" font-size="10.1" text-anchor="start" text-rendering="geometricPrecision">10</text><text x="718.2" y="285.0" font-size="6.8">1</text><text transform="translate(735.40 292.00) scale(0.955 1)" font-size="10.1" text-anchor="start" text-rendering="geometricPrecision">10</text><text x="745.2" y="285.0" font-size="6.8">2</text><text transform="translate(762.40 292.00) scale(0.955 1)" font-size="10.1" text-anchor="start" text-rendering="geometricPrecision">10</text><text x="772.2" y="285.0" font-size="6.8">3</text><text transform="translate(789.40 292.00) scale(0.955 1)" font-size="10.1" text-anchor="start" text-rendering="geometricPrecision">10</text><text x="799.2" y="285.0" font-size="6.8">4</text><text x="741.0" y="304.4" font-size="10.7" text-anchor="middle">FITC Fluorescence</text>
</g>
<g clip-path="url(#cw2)">
<rect x="868.5" y="167" width="40" height="15" fill="#a4a4a4" filter="url(#sh)"/><rect x="866.5" y="164.5" width="39" height="15" fill="#c0c0c0" stroke="#000" stroke-width="1" shape-rendering="crispEdges"/><text transform="translate(886.7 175) scale(0.925 1)" font-size="10" text-anchor="middle" text-rendering="geometricPrecision">CD4-PE</text>
<defs><clipPath id="c_21"><rect x="853" y="191" width="107" height="80"/></clipPath></defs><g clip-path="url(#c_21)"><g filter="url(#b2)"><ellipse cx="869.3" cy="267.3" rx="2.99" ry="2.30" fill="#ff2000"/><ellipse cx="869.3" cy="267.3" rx="2.03" ry="1.56" fill="#ff9000"/><ellipse cx="869.3" cy="267.3" rx="1.35" ry="1.03" fill="#f4f000"/><ellipse cx="884.5" cy="265.4" rx="2.99" ry="2.30" fill="#ff2000"/><ellipse cx="884.5" cy="265.4" rx="2.03" ry="1.56" fill="#ff9000"/><ellipse cx="884.5" cy="265.4" rx="1.35" ry="1.03" fill="#f4f000"/><ellipse cx="901.1" cy="262.9" rx="2.99" ry="2.30" fill="#ff2000"/><ellipse cx="901.1" cy="262.9" rx="2.03" ry="1.56" fill="#ff9000"/><ellipse cx="901.1" cy="262.9" rx="1.35" ry="1.03" fill="#f4f000"/><ellipse cx="906.4" cy="260.9" rx="2.99" ry="2.30" fill="#ff2000"/><ellipse cx="906.4" cy="260.9" rx="2.03" ry="1.56" fill="#ff9000"/><ellipse cx="906.4" cy="260.9" rx="1.35" ry="1.03" fill="#f4f000"/><ellipse cx="912.5" cy="260.9" rx="2.99" ry="2.30" fill="#ff2000"/><ellipse cx="912.5" cy="260.9" rx="2.03" ry="1.56" fill="#ff9000"/><ellipse cx="912.5" cy="260.9" rx="1.35" ry="1.03" fill="#f4f000"/><g transform="rotate(-66 907.6 267.2)"><ellipse cx="907.6" cy="267.2" rx="5.6" ry="3.5" fill="#ff2000"/><ellipse cx="907.6" cy="267.2" rx="4.6" ry="2.2" fill="#ff9800"/><ellipse cx="907.4" cy="267.2" rx="4.2" ry="1.5" fill="#f4f000"/><ellipse cx="909.0" cy="267.4" rx="2.4" ry="1.5" fill="#50c030"/><ellipse cx="909.6" cy="267.5" rx="1.5" ry="1.0" fill="#2050e0"/><ellipse cx="909.8000000000001" cy="267.5" rx="0.8" ry="0.6" fill="#7020d0"/></g></g></g><g shape-rendering="crispEdges" fill="#000"><rect x="851" y="190" width="2" height="83"/><rect x="851" y="271" width="110" height="2"/><rect x="852" y="190" width="109" height="1"/><rect x="960" y="190" width="1" height="83"/><rect x="849" y="272" width="2" height="1"/><rect x="850" y="267" width="1" height="1"/><rect x="850" y="262" width="1" height="1"/><rect x="850" y="257" width="1" height="1"/><rect x="849" y="252" width="2" height="1"/><rect x="850" y="247" width="1" height="1"/><rect x="850" y="242" width="1" height="1"/><rect x="850" y="236" width="1" height="1"/><rect x="849" y="231" width="2" height="1"/><rect x="850" y="226" width="1" height="1"/><rect x="850" y="220" width="1" height="1"/><rect x="850" y="215" width="1" height="1"/><rect x="849" y="210" width="2" height="1"/><rect x="850" y="205" width="1" height="1"/><rect x="850" y="200" width="1" height="1"/><rect x="850" y="195" width="1" height="1"/><rect x="849" y="190" width="2" height="1"/><rect x="852" y="273" width="1" height="3"/><rect x="860" y="273" width="1" height="2"/><rect x="865" y="273" width="1" height="2"/><rect x="868" y="273" width="1" height="2"/><rect x="871" y="273" width="1" height="2"/><rect x="873" y="273" width="1" height="2"/><rect x="875" y="273" width="1" height="2"/><rect x="876" y="273" width="1" height="2"/><rect x="878" y="273" width="1" height="2"/><rect x="879" y="273" width="1" height="3"/><rect x="887" y="273" width="1" height="2"/><rect x="892" y="273" width="1" height="2"/><rect x="895" y="273" width="1" height="2"/><rect x="898" y="273" width="1" height="2"/><rect x="900" y="273" width="1" height="2"/><rect x="902" y="273" width="1" height="2"/><rect x="903" y="273" width="1" height="2"/><rect x="905" y="273" width="1" height="2"/><rect x="906" y="273" width="1" height="3"/><rect x="914" y="273" width="1" height="2"/><rect x="919" y="273" width="1" height="2"/><rect x="922" y="273" width="1" height="2"/><rect x="925" y="273" width="1" height="2"/><rect x="927" y="273" width="1" height="2"/><rect x="929" y="273" width="1" height="2"/><rect x="930" y="273" width="1" height="2"/><rect x="932" y="273" width="1" height="2"/><rect x="933" y="273" width="1" height="3"/><rect x="941" y="273" width="1" height="2"/><rect x="946" y="273" width="1" height="2"/><rect x="949" y="273" width="1" height="2"/><rect x="952" y="273" width="1" height="2"/><rect x="954" y="273" width="1" height="2"/><rect x="956" y="273" width="1" height="2"/><rect x="957" y="273" width="1" height="2"/><rect x="959" y="273" width="1" height="2"/><rect x="960" y="273" width="1" height="3"/></g><text transform="translate(847.30 193.00) scale(0.855 1)" font-size="10.1" text-anchor="end" text-rendering="geometricPrecision">1024</text><text transform="translate(845.80 213.00) scale(0.855 1)" font-size="10.1" text-anchor="end" text-rendering="geometricPrecision">768</text><text transform="translate(845.80 234.00) scale(0.855 1)" font-size="10.1" text-anchor="end" text-rendering="geometricPrecision">512</text><text transform="translate(845.80 255.00) scale(0.855 1)" font-size="10.1" text-anchor="end" text-rendering="geometricPrecision">256</text><text transform="translate(845.80 275.00) scale(0.855 1)" font-size="10.1" text-anchor="end" text-rendering="geometricPrecision">0</text><text transform="translate(820.5 231.8) rotate(-90)" font-size="10.7" text-anchor="middle">SSC-H</text><text transform="translate(845.40 292.00) scale(0.955 1)" font-size="10.1" text-anchor="start" text-rendering="geometricPrecision">10</text><text x="855.2" y="285.0" font-size="6.8">0</text><text transform="translate(872.40 292.00) scale(0.955 1)" font-size="10.1" text-anchor="start" text-rendering="geometricPrecision">10</text><text x="882.2" y="285.0" font-size="6.8">1</text><text transform="translate(899.40 292.00) scale(0.955 1)" font-size="10.1" text-anchor="start" text-rendering="geometricPrecision">10</text><text x="909.2" y="285.0" font-size="6.8">2</text><text transform="translate(926.40 292.00) scale(0.955 1)" font-size="10.1" text-anchor="start" text-rendering="geometricPrecision">10</text><text x="936.2" y="285.0" font-size="6.8">3</text><text transform="translate(953.40 292.00) scale(0.955 1)" font-size="10.1" text-anchor="start" text-rendering="geometricPrecision">10</text><text x="963.2" y="285.0" font-size="6.8">4</text><text x="905.0" y="304.4" font-size="10.7" text-anchor="middle">FITC Fluorescence</text>
</g>
<g clip-path="url(#cw3)">
<rect x="1005.5" y="167" width="88" height="15" fill="#a4a4a4" filter="url(#sh)"/><rect x="1003.5" y="164.5" width="87" height="15" fill="#c0c0c0" stroke="#000" stroke-width="1" shape-rendering="crispEdges"/><text transform="translate(1047.7 175) scale(0.925 1)" font-size="10" text-anchor="middle" text-rendering="geometricPrecision">CD3-FITC+CD4-PE</text>
<defs><clipPath id="c_22"><rect x="1014" y="191" width="107" height="80"/></clipPath></defs><g clip-path="url(#c_22)"><g filter="url(#b2)"><ellipse cx="1082.4" cy="267.8" rx="10.9" ry="4.4" fill="url(#gRain2)" transform="rotate(0 1082.4 267.8)"/></g></g><polygon points="1065.2,265.8 1067.6,261.4 1077.5,258.3 1083.3,257.0 1090.4,257.3 1091.1,258.3 1095.6,258.5 1096.6,261.7 1099.6,264.8 1096.6,271.3 1068.6,271.3 1065.2,266.8" fill="none" stroke="#80008c" stroke-width="1.6" stroke-linejoin="round"/><g shape-rendering="crispEdges" fill="#000"><rect x="1012" y="190" width="2" height="83"/><rect x="1012" y="271" width="110" height="2"/><rect x="1013" y="190" width="109" height="1"/><rect x="1121" y="190" width="1" height="83"/><rect x="1010" y="272" width="2" height="1"/><rect x="1011" y="267" width="1" height="1"/><rect x="1011" y="262" width="1" height="1"/><rect x="1011" y="257" width="1" height="1"/><rect x="1010" y="252" width="2" height="1"/><rect x="1011" y="247" width="1" height="1"/><rect x="1011" y="242" width="1" height="1"/><rect x="1011" y="236" width="1" height="1"/><rect x="1010" y="231" width="2" height="1"/><rect x="1011" y="226" width="1" height="1"/><rect x="1011" y="220" width="1" height="1"/><rect x="1011" y="215" width="1" height="1"/><rect x="1010" y="210" width="2" height="1"/><rect x="1011" y="205" width="1" height="1"/><rect x="1011" y="200" width="1" height="1"/><rect x="1011" y="195" width="1" height="1"/><rect x="1010" y="190" width="2" height="1"/><rect x="1013" y="273" width="1" height="3"/><rect x="1021" y="273" width="1" height="2"/><rect x="1026" y="273" width="1" height="2"/><rect x="1029" y="273" width="1" height="2"/><rect x="1032" y="273" width="1" height="2"/><rect x="1034" y="273" width="1" height="2"/><rect x="1036" y="273" width="1" height="2"/><rect x="1037" y="273" width="1" height="2"/><rect x="1039" y="273" width="1" height="2"/><rect x="1040" y="273" width="1" height="3"/><rect x="1048" y="273" width="1" height="2"/><rect x="1053" y="273" width="1" height="2"/><rect x="1056" y="273" width="1" height="2"/><rect x="1059" y="273" width="1" height="2"/><rect x="1061" y="273" width="1" height="2"/><rect x="1063" y="273" width="1" height="2"/><rect x="1064" y="273" width="1" height="2"/><rect x="1066" y="273" width="1" height="2"/><rect x="1067" y="273" width="1" height="3"/><rect x="1075" y="273" width="1" height="2"/><rect x="1080" y="273" width="1" height="2"/><rect x="1083" y="273" width="1" height="2"/><rect x="1086" y="273" width="1" height="2"/><rect x="1088" y="273" width="1" height="2"/><rect x="1090" y="273" width="1" height="2"/><rect x="1091" y="273" width="1" height="2"/><rect x="1093" y="273" width="1" height="2"/><rect x="1094" y="273" width="1" height="3"/><rect x="1102" y="273" width="1" height="2"/><rect x="1107" y="273" width="1" height="2"/><rect x="1110" y="273" width="1" height="2"/><rect x="1113" y="273" width="1" height="2"/><rect x="1115" y="273" width="1" height="2"/><rect x="1117" y="273" width="1" height="2"/><rect x="1118" y="273" width="1" height="2"/><rect x="1120" y="273" width="1" height="2"/><rect x="1121" y="273" width="1" height="3"/></g><text transform="translate(1008.30 193.00) scale(0.855 1)" font-size="10.1" text-anchor="end" text-rendering="geometricPrecision">1024</text><text transform="translate(1006.80 213.00) scale(0.855 1)" font-size="10.1" text-anchor="end" text-rendering="geometricPrecision">768</text><text transform="translate(1006.80 234.00) scale(0.855 1)" font-size="10.1" text-anchor="end" text-rendering="geometricPrecision">512</text><text transform="translate(1006.80 255.00) scale(0.855 1)" font-size="10.1" text-anchor="end" text-rendering="geometricPrecision">256</text><text transform="translate(1006.80 275.00) scale(0.855 1)" font-size="10.1" text-anchor="end" text-rendering="geometricPrecision">0</text><text transform="translate(981.5 231.8) rotate(-90)" font-size="10.7" text-anchor="middle">SSC-H</text><text transform="translate(1006.40 292.00) scale(0.955 1)" font-size="10.1" text-anchor="start" text-rendering="geometricPrecision">10</text><text x="1016.2" y="285.0" font-size="6.8">0</text><text transform="translate(1033.40 292.00) scale(0.955 1)" font-size="10.1" text-anchor="start" text-rendering="geometricPrecision">10</text><text x="1043.2" y="285.0" font-size="6.8">1</text><text transform="translate(1060.40 292.00) scale(0.955 1)" font-size="10.1" text-anchor="start" text-rendering="geometricPrecision">10</text><text x="1070.2" y="285.0" font-size="6.8">2</text><text transform="translate(1087.40 292.00) scale(0.955 1)" font-size="10.1" text-anchor="start" text-rendering="geometricPrecision">10</text><text x="1097.2" y="285.0" font-size="6.8">3</text><text transform="translate(1114.40 292.00) scale(0.955 1)" font-size="10.1" text-anchor="start" text-rendering="geometricPrecision">10</text><text x="1124.2" y="285.0" font-size="6.8">4</text><text x="1066.0" y="304.4" font-size="10.7" text-anchor="middle">FITC Fluorescence</text>
</g>
<g clip-path="url(#cw1)">
<rect x="700.5" y="354" width="49" height="15" fill="#a4a4a4" filter="url(#sh)"/><rect x="698.5" y="351.5" width="48" height="15" fill="#c0c0c0" stroke="#000" stroke-width="1" shape-rendering="crispEdges"/><text transform="translate(723.2 362) scale(0.925 1)" font-size="10" text-anchor="middle" text-rendering="geometricPrecision">CD3-FITC</text>
<defs><clipPath id="c_30"><rect x="689" y="378" width="107" height="80"/></clipPath></defs><g clip-path="url(#c_30)"><g filter="url(#b2)"><ellipse cx="764.4" cy="456.1" rx="2.99" ry="2.30" fill="#f08838"/><ellipse cx="764.4" cy="456.1" rx="2.03" ry="1.56" fill="#70b060"/><ellipse cx="764.4" cy="456.1" rx="1.35" ry="1.03" fill="#3050d0"/><ellipse cx="775.5" cy="451.6" rx="2.99" ry="2.30" fill="#f08838"/><ellipse cx="775.5" cy="451.6" rx="2.03" ry="1.56" fill="#70b060"/><ellipse cx="775.5" cy="451.6" rx="1.35" ry="1.03" fill="#3050d0"/></g></g><g shape-rendering="crispEdges" fill="#000"><rect x="687" y="377" width="2" height="83"/><rect x="687" y="458" width="110" height="2"/><rect x="688" y="377" width="109" height="1"/><rect x="796" y="377" width="1" height="83"/><rect x="685" y="459" width="2" height="1"/><rect x="686" y="454" width="1" height="1"/><rect x="686" y="449" width="1" height="1"/><rect x="686" y="444" width="1" height="1"/><rect x="685" y="439" width="2" height="1"/><rect x="686" y="434" width="1" height="1"/><rect x="686" y="428" width="1" height="1"/><rect x="686" y="423" width="1" height="1"/><rect x="685" y="418" width="2" height="1"/><rect x="686" y="413" width="1" height="1"/><rect x="686" y="408" width="1" height="1"/><rect x="686" y="402" width="1" height="1"/><rect x="685" y="397" width="2" height="1"/><rect x="686" y="392" width="1" height="1"/><rect x="686" y="387" width="1" height="1"/><rect x="686" y="382" width="1" height="1"/><rect x="685" y="377" width="2" height="1"/><rect x="688" y="460" width="1" height="3"/><rect x="696" y="460" width="1" height="2"/><rect x="701" y="460" width="1" height="2"/><rect x="704" y="460" width="1" height="2"/><rect x="707" y="460" width="1" height="2"/><rect x="709" y="460" width="1" height="2"/><rect x="711" y="460" width="1" height="2"/><rect x="712" y="460" width="1" height="2"/><rect x="714" y="460" width="1" height="2"/><rect x="715" y="460" width="1" height="3"/><rect x="723" y="460" width="1" height="2"/><rect x="728" y="460" width="1" height="2"/><rect x="731" y="460" width="1" height="2"/><rect x="734" y="460" width="1" height="2"/><rect x="736" y="460" width="1" height="2"/><rect x="738" y="460" width="1" height="2"/><rect x="739" y="460" width="1" height="2"/><rect x="741" y="460" width="1" height="2"/><rect x="742" y="460" width="1" height="3"/><rect x="750" y="460" width="1" height="2"/><rect x="755" y="460" width="1" height="2"/><rect x="758" y="460" width="1" height="2"/><rect x="761" y="460" width="1" height="2"/><rect x="763" y="460" width="1" height="2"/><rect x="765" y="460" width="1" height="2"/><rect x="766" y="460" width="1" height="2"/><rect x="768" y="460" width="1" height="2"/><rect x="769" y="460" width="1" height="3"/><rect x="777" y="460" width="1" height="2"/><rect x="782" y="460" width="1" height="2"/><rect x="785" y="460" width="1" height="2"/><rect x="788" y="460" width="1" height="2"/><rect x="790" y="460" width="1" height="2"/><rect x="792" y="460" width="1" height="2"/><rect x="793" y="460" width="1" height="2"/><rect x="795" y="460" width="1" height="2"/><rect x="796" y="460" width="1" height="3"/></g><text transform="translate(683.30 380.00) scale(0.855 1)" font-size="10.1" text-anchor="end" text-rendering="geometricPrecision">1024</text><text transform="translate(681.80 400.00) scale(0.855 1)" font-size="10.1" text-anchor="end" text-rendering="geometricPrecision">768</text><text transform="translate(681.80 421.00) scale(0.855 1)" font-size="10.1" text-anchor="end" text-rendering="geometricPrecision">512</text><text transform="translate(681.80 442.00) scale(0.855 1)" font-size="10.1" text-anchor="end" text-rendering="geometricPrecision">256</text><text transform="translate(681.80 462.00) scale(0.855 1)" font-size="10.1" text-anchor="end" text-rendering="geometricPrecision">0</text><text transform="translate(656.5 418.8) rotate(-90)" font-size="10.7" text-anchor="middle">SSC-H</text><text transform="translate(681.40 479.00) scale(0.955 1)" font-size="10.1" text-anchor="start" text-rendering="geometricPrecision">10</text><text x="691.2" y="472.0" font-size="6.8">0</text><text transform="translate(708.40 479.00) scale(0.955 1)" font-size="10.1" text-anchor="start" text-rendering="geometricPrecision">10</text><text x="718.2" y="472.0" font-size="6.8">1</text><text transform="translate(735.40 479.00) scale(0.955 1)" font-size="10.1" text-anchor="start" text-rendering="geometricPrecision">10</text><text x="745.2" y="472.0" font-size="6.8">2</text><text transform="translate(762.40 479.00) scale(0.955 1)" font-size="10.1" text-anchor="start" text-rendering="geometricPrecision">10</text><text x="772.2" y="472.0" font-size="6.8">3</text><text transform="translate(789.40 479.00) scale(0.955 1)" font-size="10.1" text-anchor="start" text-rendering="geometricPrecision">10</text><text x="799.2" y="472.0" font-size="6.8">4</text><text x="741.0" y="491.4" font-size="10.7" text-anchor="middle">PE Fluorescence</text>
</g>
<g clip-path="url(#cw2)">
<rect x="868.5" y="354" width="40" height="15" fill="#a4a4a4" filter="url(#sh)"/><rect x="866.5" y="351.5" width="39" height="15" fill="#c0c0c0" stroke="#000" stroke-width="1" shape-rendering="crispEdges"/><text transform="translate(886.7 362) scale(0.925 1)" font-size="10" text-anchor="middle" text-rendering="geometricPrecision">CD4-PE</text>
<defs><clipPath id="c_31"><rect x="853" y="378" width="107" height="80"/></clipPath></defs><g clip-path="url(#c_31)"><g filter="url(#b2)"><ellipse cx="937.3" cy="455.6" rx="6.3" ry="5.2" fill="url(#gRain2)" transform="rotate(-15 937.3 455.6)"/></g></g><polygon points="925.8,453.6 935.6,445.9 942.2,445.3 942.8,446.3 948.8,446.8 947.5,454.8 944.1,458.4 928.3,458.4 926.6,454.8" fill="none" stroke="#088008" stroke-width="1.5" stroke-linejoin="round"/><text x="933" y="444.7" font-size="10.7" fill="#088008" letter-spacing="0.55">FL2+</text><g shape-rendering="crispEdges" fill="#000"><rect x="851" y="377" width="2" height="83"/><rect x="851" y="458" width="110" height="2"/><rect x="852" y="377" width="109" height="1"/><rect x="960" y="377" width="1" height="83"/><rect x="849" y="459" width="2" height="1"/><rect x="850" y="454" width="1" height="1"/><rect x="850" y="449" width="1" height="1"/><rect x="850" y="444" width="1" height="1"/><rect x="849" y="439" width="2" height="1"/><rect x="850" y="434" width="1" height="1"/><rect x="850" y="428" width="1" height="1"/><rect x="850" y="423" width="1" height="1"/><rect x="849" y="418" width="2" height="1"/><rect x="850" y="413" width="1" height="1"/><rect x="850" y="408" width="1" height="1"/><rect x="850" y="402" width="1" height="1"/><rect x="849" y="397" width="2" height="1"/><rect x="850" y="392" width="1" height="1"/><rect x="850" y="387" width="1" height="1"/><rect x="850" y="382" width="1" height="1"/><rect x="849" y="377" width="2" height="1"/><rect x="852" y="460" width="1" height="3"/><rect x="860" y="460" width="1" height="2"/><rect x="865" y="460" width="1" height="2"/><rect x="868" y="460" width="1" height="2"/><rect x="871" y="460" width="1" height="2"/><rect x="873" y="460" width="1" height="2"/><rect x="875" y="460" width="1" height="2"/><rect x="876" y="460" width="1" height="2"/><rect x="878" y="460" width="1" height="2"/><rect x="879" y="460" width="1" height="3"/><rect x="887" y="460" width="1" height="2"/><rect x="892" y="460" width="1" height="2"/><rect x="895" y="460" width="1" height="2"/><rect x="898" y="460" width="1" height="2"/><rect x="900" y="460" width="1" height="2"/><rect x="902" y="460" width="1" height="2"/><rect x="903" y="460" width="1" height="2"/><rect x="905" y="460" width="1" height="2"/><rect x="906" y="460" width="1" height="3"/><rect x="914" y="460" width="1" height="2"/><rect x="919" y="460" width="1" height="2"/><rect x="922" y="460" width="1" height="2"/><rect x="925" y="460" width="1" height="2"/><rect x="927" y="460" width="1" height="2"/><rect x="929" y="460" width="1" height="2"/><rect x="930" y="460" width="1" height="2"/><rect x="932" y="460" width="1" height="2"/><rect x="933" y="460" width="1" height="3"/><rect x="941" y="460" width="1" height="2"/><rect x="946" y="460" width="1" height="2"/><rect x="949" y="460" width="1" height="2"/><rect x="952" y="460" width="1" height="2"/><rect x="954" y="460" width="1" height="2"/><rect x="956" y="460" width="1" height="2"/><rect x="957" y="460" width="1" height="2"/><rect x="959" y="460" width="1" height="2"/><rect x="960" y="460" width="1" height="3"/></g><text transform="translate(847.30 380.00) scale(0.855 1)" font-size="10.1" text-anchor="end" text-rendering="geometricPrecision">1024</text><text transform="translate(845.80 400.00) scale(0.855 1)" font-size="10.1" text-anchor="end" text-rendering="geometricPrecision">768</text><text transform="translate(845.80 421.00) scale(0.855 1)" font-size="10.1" text-anchor="end" text-rendering="geometricPrecision">512</text><text transform="translate(845.80 442.00) scale(0.855 1)" font-size="10.1" text-anchor="end" text-rendering="geometricPrecision">256</text><text transform="translate(845.80 462.00) scale(0.855 1)" font-size="10.1" text-anchor="end" text-rendering="geometricPrecision">0</text><text transform="translate(820.5 418.8) rotate(-90)" font-size="10.7" text-anchor="middle">SSC-H</text><text transform="translate(845.40 479.00) scale(0.955 1)" font-size="10.1" text-anchor="start" text-rendering="geometricPrecision">10</text><text x="855.2" y="472.0" font-size="6.8">0</text><text transform="translate(872.40 479.00) scale(0.955 1)" font-size="10.1" text-anchor="start" text-rendering="geometricPrecision">10</text><text x="882.2" y="472.0" font-size="6.8">1</text><text transform="translate(899.40 479.00) scale(0.955 1)" font-size="10.1" text-anchor="start" text-rendering="geometricPrecision">10</text><text x="909.2" y="472.0" font-size="6.8">2</text><text transform="translate(926.40 479.00) scale(0.955 1)" font-size="10.1" text-anchor="start" text-rendering="geometricPrecision">10</text><text x="936.2" y="472.0" font-size="6.8">3</text><text transform="translate(953.40 479.00) scale(0.955 1)" font-size="10.1" text-anchor="start" text-rendering="geometricPrecision">10</text><text x="963.2" y="472.0" font-size="6.8">4</text><text x="905.0" y="491.4" font-size="10.7" text-anchor="middle">PE Fluorescence</text>
</g>
<g clip-path="url(#cw3)">
<rect x="1005.5" y="354" width="88" height="15" fill="#a4a4a4" filter="url(#sh)"/><rect x="1003.5" y="351.5" width="87" height="15" fill="#c0c0c0" stroke="#000" stroke-width="1" shape-rendering="crispEdges"/><text transform="translate(1047.7 362) scale(0.925 1)" font-size="10" text-anchor="middle" text-rendering="geometricPrecision">CD3-FITC+CD4-PE</text>
<defs><clipPath id="c_32"><rect x="1014" y="378" width="107" height="80"/></clipPath></defs><g clip-path="url(#c_32)"><g filter="url(#b2)"><ellipse cx="1098.3" cy="455.6" rx="6.3" ry="5.2" fill="url(#gRain2)" transform="rotate(-15 1098.3 455.6)"/></g></g><polygon points="1086.8,453.6 1096.6,445.9 1103.2,445.3 1103.8,446.3 1109.8,446.8 1108.5,454.8 1105.1,458.4 1089.3,458.4 1087.6,454.8" fill="none" stroke="#088008" stroke-width="1.5" stroke-linejoin="round"/><g shape-rendering="crispEdges" fill="#000"><rect x="1012" y="377" width="2" height="83"/><rect x="1012" y="458" width="110" height="2"/><rect x="1013" y="377" width="109" height="1"/><rect x="1121" y="377" width="1" height="83"/><rect x="1010" y="459" width="2" height="1"/><rect x="1011" y="454" width="1" height="1"/><rect x="1011" y="449" width="1" height="1"/><rect x="1011" y="444" width="1" height="1"/><rect x="1010" y="439" width="2" height="1"/><rect x="1011" y="434" width="1" height="1"/><rect x="1011" y="428" width="1" height="1"/><rect x="1011" y="423" width="1" height="1"/><rect x="1010" y="418" width="2" height="1"/><rect x="1011" y="413" width="1" height="1"/><rect x="1011" y="408" width="1" height="1"/><rect x="1011" y="402" width="1" height="1"/><rect x="1010" y="397" width="2" height="1"/><rect x="1011" y="392" width="1" height="1"/><rect x="1011" y="387" width="1" height="1"/><rect x="1011" y="382" width="1" height="1"/><rect x="1010" y="377" width="2" height="1"/><rect x="1013" y="460" width="1" height="3"/><rect x="1021" y="460" width="1" height="2"/><rect x="1026" y="460" width="1" height="2"/><rect x="1029" y="460" width="1" height="2"/><rect x="1032" y="460" width="1" height="2"/><rect x="1034" y="460" width="1" height="2"/><rect x="1036" y="460" width="1" height="2"/><rect x="1037" y="460" width="1" height="2"/><rect x="1039" y="460" width="1" height="2"/><rect x="1040" y="460" width="1" height="3"/><rect x="1048" y="460" width="1" height="2"/><rect x="1053" y="460" width="1" height="2"/><rect x="1056" y="460" width="1" height="2"/><rect x="1059" y="460" width="1" height="2"/><rect x="1061" y="460" width="1" height="2"/><rect x="1063" y="460" width="1" height="2"/><rect x="1064" y="460" width="1" height="2"/><rect x="1066" y="460" width="1" height="2"/><rect x="1067" y="460" width="1" height="3"/><rect x="1075" y="460" width="1" height="2"/><rect x="1080" y="460" width="1" height="2"/><rect x="1083" y="460" width="1" height="2"/><rect x="1086" y="460" width="1" height="2"/><rect x="1088" y="460" width="1" height="2"/><rect x="1090" y="460" width="1" height="2"/><rect x="1091" y="460" width="1" height="2"/><rect x="1093" y="460" width="1" height="2"/><rect x="1094" y="460" width="1" height="3"/><rect x="1102" y="460" width="1" height="2"/><rect x="1107" y="460" width="1" height="2"/><rect x="1110" y="460" width="1" height="2"/><rect x="1113" y="460" width="1" height="2"/><rect x="1115" y="460" width="1" height="2"/><rect x="1117" y="460" width="1" height="2"/><rect x="1118" y="460" width="1" height="2"/><rect x="1120" y="460" width="1" height="2"/><rect x="1121" y="460" width="1" height="3"/></g><text transform="translate(1008.30 380.00) scale(0.855 1)" font-size="10.1" text-anchor="end" text-rendering="geometricPrecision">1024</text><text transform="translate(1006.80 400.00) scale(0.855 1)" font-size="10.1" text-anchor="end" text-rendering="geometricPrecision">768</text><text transform="translate(1006.80 421.00) scale(0.855 1)" font-size="10.1" text-anchor="end" text-rendering="geometricPrecision">512</text><text transform="translate(1006.80 442.00) scale(0.855 1)" font-size="10.1" text-anchor="end" text-rendering="geometricPrecision">256</text><text transform="translate(1006.80 462.00) scale(0.855 1)" font-size="10.1" text-anchor="end" text-rendering="geometricPrecision">0</text><text transform="translate(981.5 418.8) rotate(-90)" font-size="10.7" text-anchor="middle">SSC-H</text><text transform="translate(1006.40 479.00) scale(0.955 1)" font-size="10.1" text-anchor="start" text-rendering="geometricPrecision">10</text><text x="1016.2" y="472.0" font-size="6.8">0</text><text transform="translate(1033.40 479.00) scale(0.955 1)" font-size="10.1" text-anchor="start" text-rendering="geometricPrecision">10</text><text x="1043.2" y="472.0" font-size="6.8">1</text><text transform="translate(1060.40 479.00) scale(0.955 1)" font-size="10.1" text-anchor="start" text-rendering="geometricPrecision">10</text><text x="1070.2" y="472.0" font-size="6.8">2</text><text transform="translate(1087.40 479.00) scale(0.955 1)" font-size="10.1" text-anchor="start" text-rendering="geometricPrecision">10</text><text x="1097.2" y="472.0" font-size="6.8">3</text><text transform="translate(1114.40 479.00) scale(0.955 1)" font-size="10.1" text-anchor="start" text-rendering="geometricPrecision">10</text><text x="1124.2" y="472.0" font-size="6.8">4</text><text x="1066.0" y="491.4" font-size="10.7" text-anchor="middle">PE Fluorescence</text>
</g>
<rect x="639" y="152" width="167" height="167" fill="none" stroke="#a9d4a0" stroke-width="2" shape-rendering="crispEdges"/>
<circle cx="639.5" cy="152.5" r="4.1" fill="#fff" stroke="#747474" stroke-width="1.9"/>
<circle cx="639.5" cy="235.8" r="4.1" fill="#fff" stroke="#747474" stroke-width="1.9"/>
<circle cx="639.5" cy="319.5" r="4.1" fill="#fff" stroke="#747474" stroke-width="1.9"/>
<circle cx="722.6" cy="152.5" r="4.1" fill="#fff" stroke="#747474" stroke-width="1.9"/>
<circle cx="722.6" cy="319.5" r="4.1" fill="#fff" stroke="#747474" stroke-width="1.9"/>
<circle cx="806.5" cy="152.5" r="4.1" fill="#fff" stroke="#747474" stroke-width="1.9"/>
<circle cx="806.5" cy="235.8" r="4.1" fill="#fff" stroke="#747474" stroke-width="1.9"/>
<circle cx="806.5" cy="319.5" r="4.1" fill="#fff" stroke="#747474" stroke-width="1.9"/>
</svg>
</body></html>
